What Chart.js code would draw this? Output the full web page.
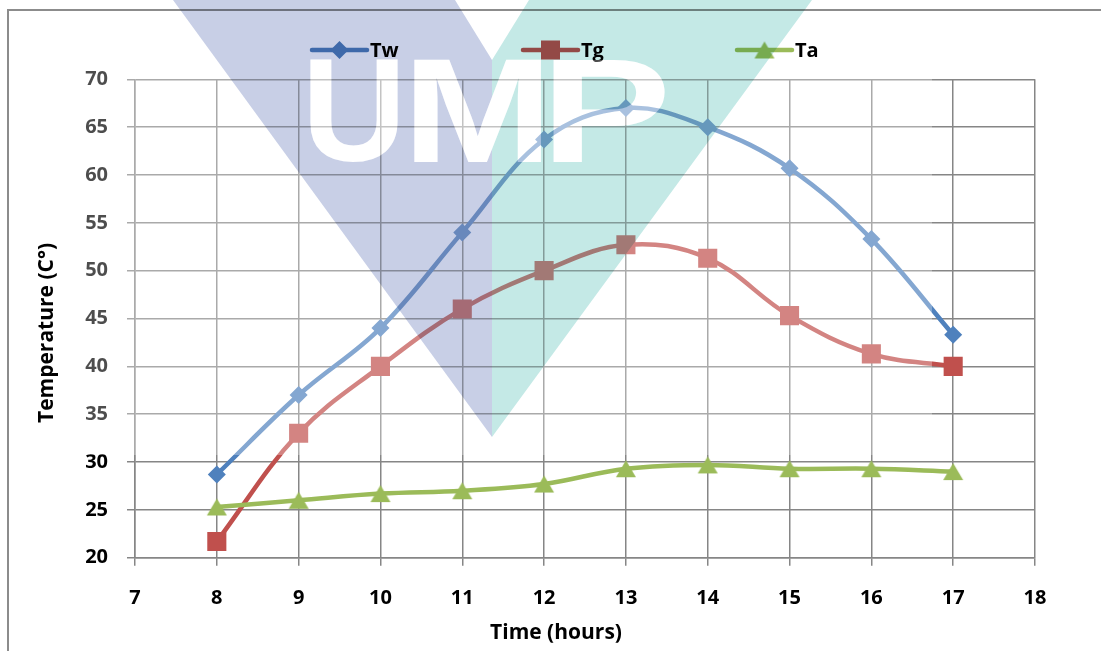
<!DOCTYPE html>
<html>
<head>
<meta charset="utf-8">
<title>Temperature over time</title>
<script src="https://cdn.jsdelivr.net/npm/chart.js@4.4.1/dist/chart.umd.min.js"></script>
<style>
  html, body { margin: 0; padding: 0; background: #ffffff; overflow: hidden; }
  #wrap { width: 1101px; height: 651px; position: relative; }
</style>
</head>
<body>
<div id="wrap"><canvas id="chart" width="1101" height="651"></canvas></div>
<script>
// ---- data ----
const hours = [8, 9, 10, 11, 12, 13, 14, 15, 16, 17];
const tw = [28.7, 37, 44, 54, 63.7, 67, 65, 60.7, 53.3, 43.3];
const tg = [21.7, 33, 40, 46, 50, 52.7, 51.3, 45.3, 41.3, 40];
const ta = [25.3, 26, 26.7, 27, 27.7, 29.3, 29.7, 29.3, 29.3, 29];
const seriesNames = ['Tw', 'Tg', 'Ta'];
const xTitle = 'Time (hours)';
const yTitle = 'Temperature (C°)';
const xMin = 7, xMax = 18, xStep = 1;
const yMin = 20, yMax = 70, yStep = 5;
const logoLetters = ['U', 'M', 'P'];

// ---- styling ----
const COLORS = ['#4f81bd', '#c0504d', '#9bbb59'];
const GRID = '#868686';
const FONT = '"Open Sans", "Liberation Sans", sans-serif';

// triangle marker centred on its bounding box
function triangleMarker(color, w, h) {
  const c = document.createElement('canvas');
  c.width = w + 2; c.height = h + 2;
  const g = c.getContext('2d');
  g.fillStyle = color;
  g.beginPath();
  g.moveTo(1, h + 1);
  g.lineTo(w + 1, h + 1);
  g.lineTo(w / 2 + 1, 1);
  g.closePath();
  g.fill();
  return c;
}
const taMarker = triangleMarker(COLORS[2], 20, 17);

const pts = (ys) => hours.map((h, i) => ({ x: h, y: ys[i] }));

// frame around the figure
const framePlugin = {
  id: 'frame',
  beforeDraw(chart) {
    const ctx = chart.ctx;
    ctx.save();
    ctx.fillStyle = '#ffffff';
    ctx.fillRect(0, 0, chart.width, chart.height);
    ctx.strokeStyle = '#8c8c8c';
    ctx.lineWidth = 2;
    ctx.beginPath();
    ctx.moveTo(8, chart.height);
    ctx.lineTo(8, 10);
    ctx.lineTo(chart.width, 10);
    ctx.stroke();
    ctx.restore();
  }
};

// axis titles and legend row
const labelsPlugin = {
  id: 'labels',
  afterDatasetsDraw(chart) {
    const ctx = chart.ctx;
    ctx.save();
    ctx.fillStyle = '#000';
    ctx.font = 'bold 21px ' + FONT;
    ctx.textAlign = 'center';
    ctx.textBaseline = 'middle';
    ctx.fillText(xTitle, 556, 633);
    ctx.save();
    ctx.translate(47, 333);
    ctx.rotate(-Math.PI / 2);
    ctx.fillText(yTitle, 0, 0);
    ctx.restore();

    // legend
    const starts = [312, 523, 737];
    const ly = 50, len = 55;
    chart.data.datasets.forEach((ds, i) => {
      const x0 = starts[i], cx = x0 + len / 2;
      ctx.strokeStyle = ds.borderColor;
      ctx.lineWidth = 4.5;
      ctx.lineCap = 'round';
      ctx.beginPath();
      ctx.moveTo(x0, ly);
      ctx.lineTo(x0 + len, ly);
      ctx.stroke();
      ctx.fillStyle = ds.borderColor;
      ctx.beginPath();
      if (i === 0) {
        ctx.moveTo(cx - 9, ly); ctx.lineTo(cx, ly - 9); ctx.lineTo(cx + 9, ly); ctx.lineTo(cx, ly + 9);
        ctx.closePath(); ctx.fill();
      } else if (i === 1) {
        ctx.fillRect(cx - 9.5, ly - 9.5, 19, 19);
      } else {
        ctx.drawImage(taMarker, cx - taMarker.width / 2, ly - taMarker.height / 2);
      }
      ctx.fillStyle = '#000';
      ctx.font = 'bold 20px ' + FONT;
      ctx.textAlign = 'left';
      ctx.fillText(ds.label, x0 + len + 3, ly + 1);
    });
    ctx.restore();
  }
};

// letters fitted into boxes on a given context
function drawLetters(g, alphaFill) {
  g.font = 'bold 140px "Liberation Sans", sans-serif';
  g.textAlign = 'left';
  g.textBaseline = 'alphabetic';
  g.fillStyle = alphaFill;
  const boxes = [[310, 398], [414, 542], [553, 665]];
  const top = 60, bottom = 162;
  logoLetters.forEach((ch, i) => {
    const m = g.measureText(ch);
    const inkL = -m.actualBoundingBoxLeft, inkR = m.actualBoundingBoxRight;
    const inkT = -m.actualBoundingBoxAscent, inkB = m.actualBoundingBoxDescent;
    const sx = (boxes[i][1] - boxes[i][0]) / (inkR - inkL);
    const sy = (bottom - top) / (inkB - inkT);
    g.save();
    g.translate(boxes[i][0], top);
    g.scale(sx, sy);
    g.fillText(ch, -inkL, -inkT);
    g.restore();
  });
}

// faint logo drawn over the figure
const logoPlugin = {
  id: 'logo',
  afterDraw(chart) {
    const ctx = chart.ctx;
    // pale wash
    ctx.save();
    ctx.fillStyle = 'rgba(255,255,255,0.3)';
    ctx.fillRect(70, 62, 862, 393);
    ctx.restore();

    // two-tone inverted triangle with the letters cut out
    const off = document.createElement('canvas');
    off.width = chart.width; off.height = chart.height;
    const g = off.getContext('2d');
    g.fillStyle = '#c8cfe6';
    g.beginPath();
    g.moveTo(173, 0); g.lineTo(455, 0); g.lineTo(492, 60); g.lineTo(492, 437);
    g.closePath(); g.fill();
    g.fillStyle = '#c4e9e6';
    g.beginPath();
    g.moveTo(492, 60); g.lineTo(529, 0); g.lineTo(812, 0); g.lineTo(492, 437);
    g.closePath(); g.fill();
    g.globalCompositeOperation = 'destination-out';
    drawLetters(g, '#000');

    ctx.save();
    ctx.globalCompositeOperation = 'multiply';
    ctx.drawImage(off, 0, 0);
    ctx.globalCompositeOperation = 'source-over';
    drawLetters(ctx, 'rgba(255,255,255,0.3)');
    ctx.restore();
  }
};

const chart = new Chart(document.getElementById('chart'), {
  type: 'line',
  data: {
    datasets: [
      {
        label: seriesNames[0], data: pts(tw), order: 3,
        borderColor: COLORS[0], backgroundColor: COLORS[0],
        pointStyle: 'rectRot', pointRadius: 9, pointBorderWidth: 0,
        pointBackgroundColor: COLORS[0]
      },
      {
        label: seriesNames[1], data: pts(tg), order: 2,
        borderColor: COLORS[1], backgroundColor: COLORS[1],
        pointStyle: 'rect', pointRadius: 13.5, pointBorderWidth: 0,
        pointBackgroundColor: COLORS[1]
      },
      {
        label: seriesNames[2], data: pts(ta), order: 1,
        borderColor: COLORS[2], backgroundColor: COLORS[2],
        pointStyle: taMarker, pointRadius: 10, pointBorderWidth: 0
      }
    ]
  },
  options: {
    responsive: false,
    animation: false,
    devicePixelRatio: 1,
    events: [],
    layout: { padding: { left: 0, right: 66, top: 79.3, bottom: 0 } },
    elements: {
      line: { borderWidth: 4.5, tension: 0.38, fill: false, borderCapStyle: 'round', borderJoinStyle: 'round' }
    },
    plugins: { legend: { display: false }, tooltip: { enabled: false } },
    scales: {
      x: {
        type: 'linear', min: xMin, max: xMax,
        afterFit: (s) => { s.height = 651 - 557.7; },
        ticks: { stepSize: xStep, color: '#000', padding: 21, font: { family: FONT, weight: 'bold', size: 20 } },
        grid: { color: GRID, lineWidth: 1.5, tickLength: 8, tickColor: GRID },
        border: { color: GRID, width: 1.5 }
      },
      y: {
        type: 'linear', min: yMin, max: yMax,
        afterFit: (s) => { s.width = 135; },
        ticks: { stepSize: yStep, color: '#000', padding: 19, font: { family: FONT, weight: 'bold', size: 20 } },
        grid: { color: GRID, lineWidth: 1.5, tickLength: 8, tickColor: GRID },
        border: { color: GRID, width: 1.5 }
      }
    }
  },
  plugins: [framePlugin, labelsPlugin, logoPlugin]
});
</script>
</body>
</html>
